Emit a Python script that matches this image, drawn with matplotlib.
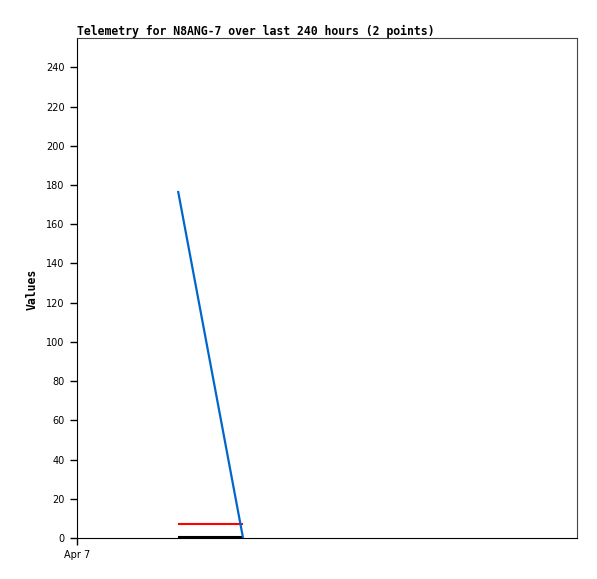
import matplotlib
matplotlib.use("Agg")
import matplotlib.pyplot as plt

hours = [48.5, 79.7]
blue_vals = [177, 0]
red_vals = [7, 7]
black_vals = [0.3, 0.3]
yticks = list(range(0, 241, 20))
xtick_pos = [0]
xtick_labels = ["Apr 7"]
title = "Telemetry for N8ANG-7 over last 240 hours (2 points)"

fig = plt.figure(figsize=(5.97, 5.79), dpi=100)
ax = fig.add_axes([77/597, 1-538/579, 500/597, 500/579])

ax.plot(hours, black_vals, color="black", lw=1.5, solid_capstyle="butt")
ax.plot(hours, red_vals, color="#ff0000", lw=1.5, solid_capstyle="butt")
ax.plot(hours, blue_vals, color="#0066cc", lw=1.6, solid_capstyle="butt")

ax.set_xlim(0, 240)
ax.set_ylim(0, 255)
ax.set_yticks(yticks)
ax.set_yticklabels([str(v) for v in yticks], fontsize=7, family="DejaVu Sans")
ax.set_xticks(xtick_pos)
ax.set_xticklabels(xtick_labels, fontsize=7, family="DejaVu Sans")
ax.tick_params(axis="y", direction="out", length=5, width=1, pad=4)
ax.tick_params(axis="x", direction="out", length=5, width=1, pad=4)

for s in ["left", "bottom"]:
    ax.spines[s].set_color("black")
for s in ["top", "right"]:
    ax.spines[s].set_color("#444444")

fig.text(77/597, 1-31/579, title, fontsize=8.3, family="DejaVu Sans Mono",
         fontweight="bold", ha="left", va="center")
fig.text(32/597, 1-289/579, "Values", fontsize=8.3, family="DejaVu Sans Mono",
         fontweight="bold", rotation=90, ha="center", va="center")

fig.savefig("out.png", dpi=100)
